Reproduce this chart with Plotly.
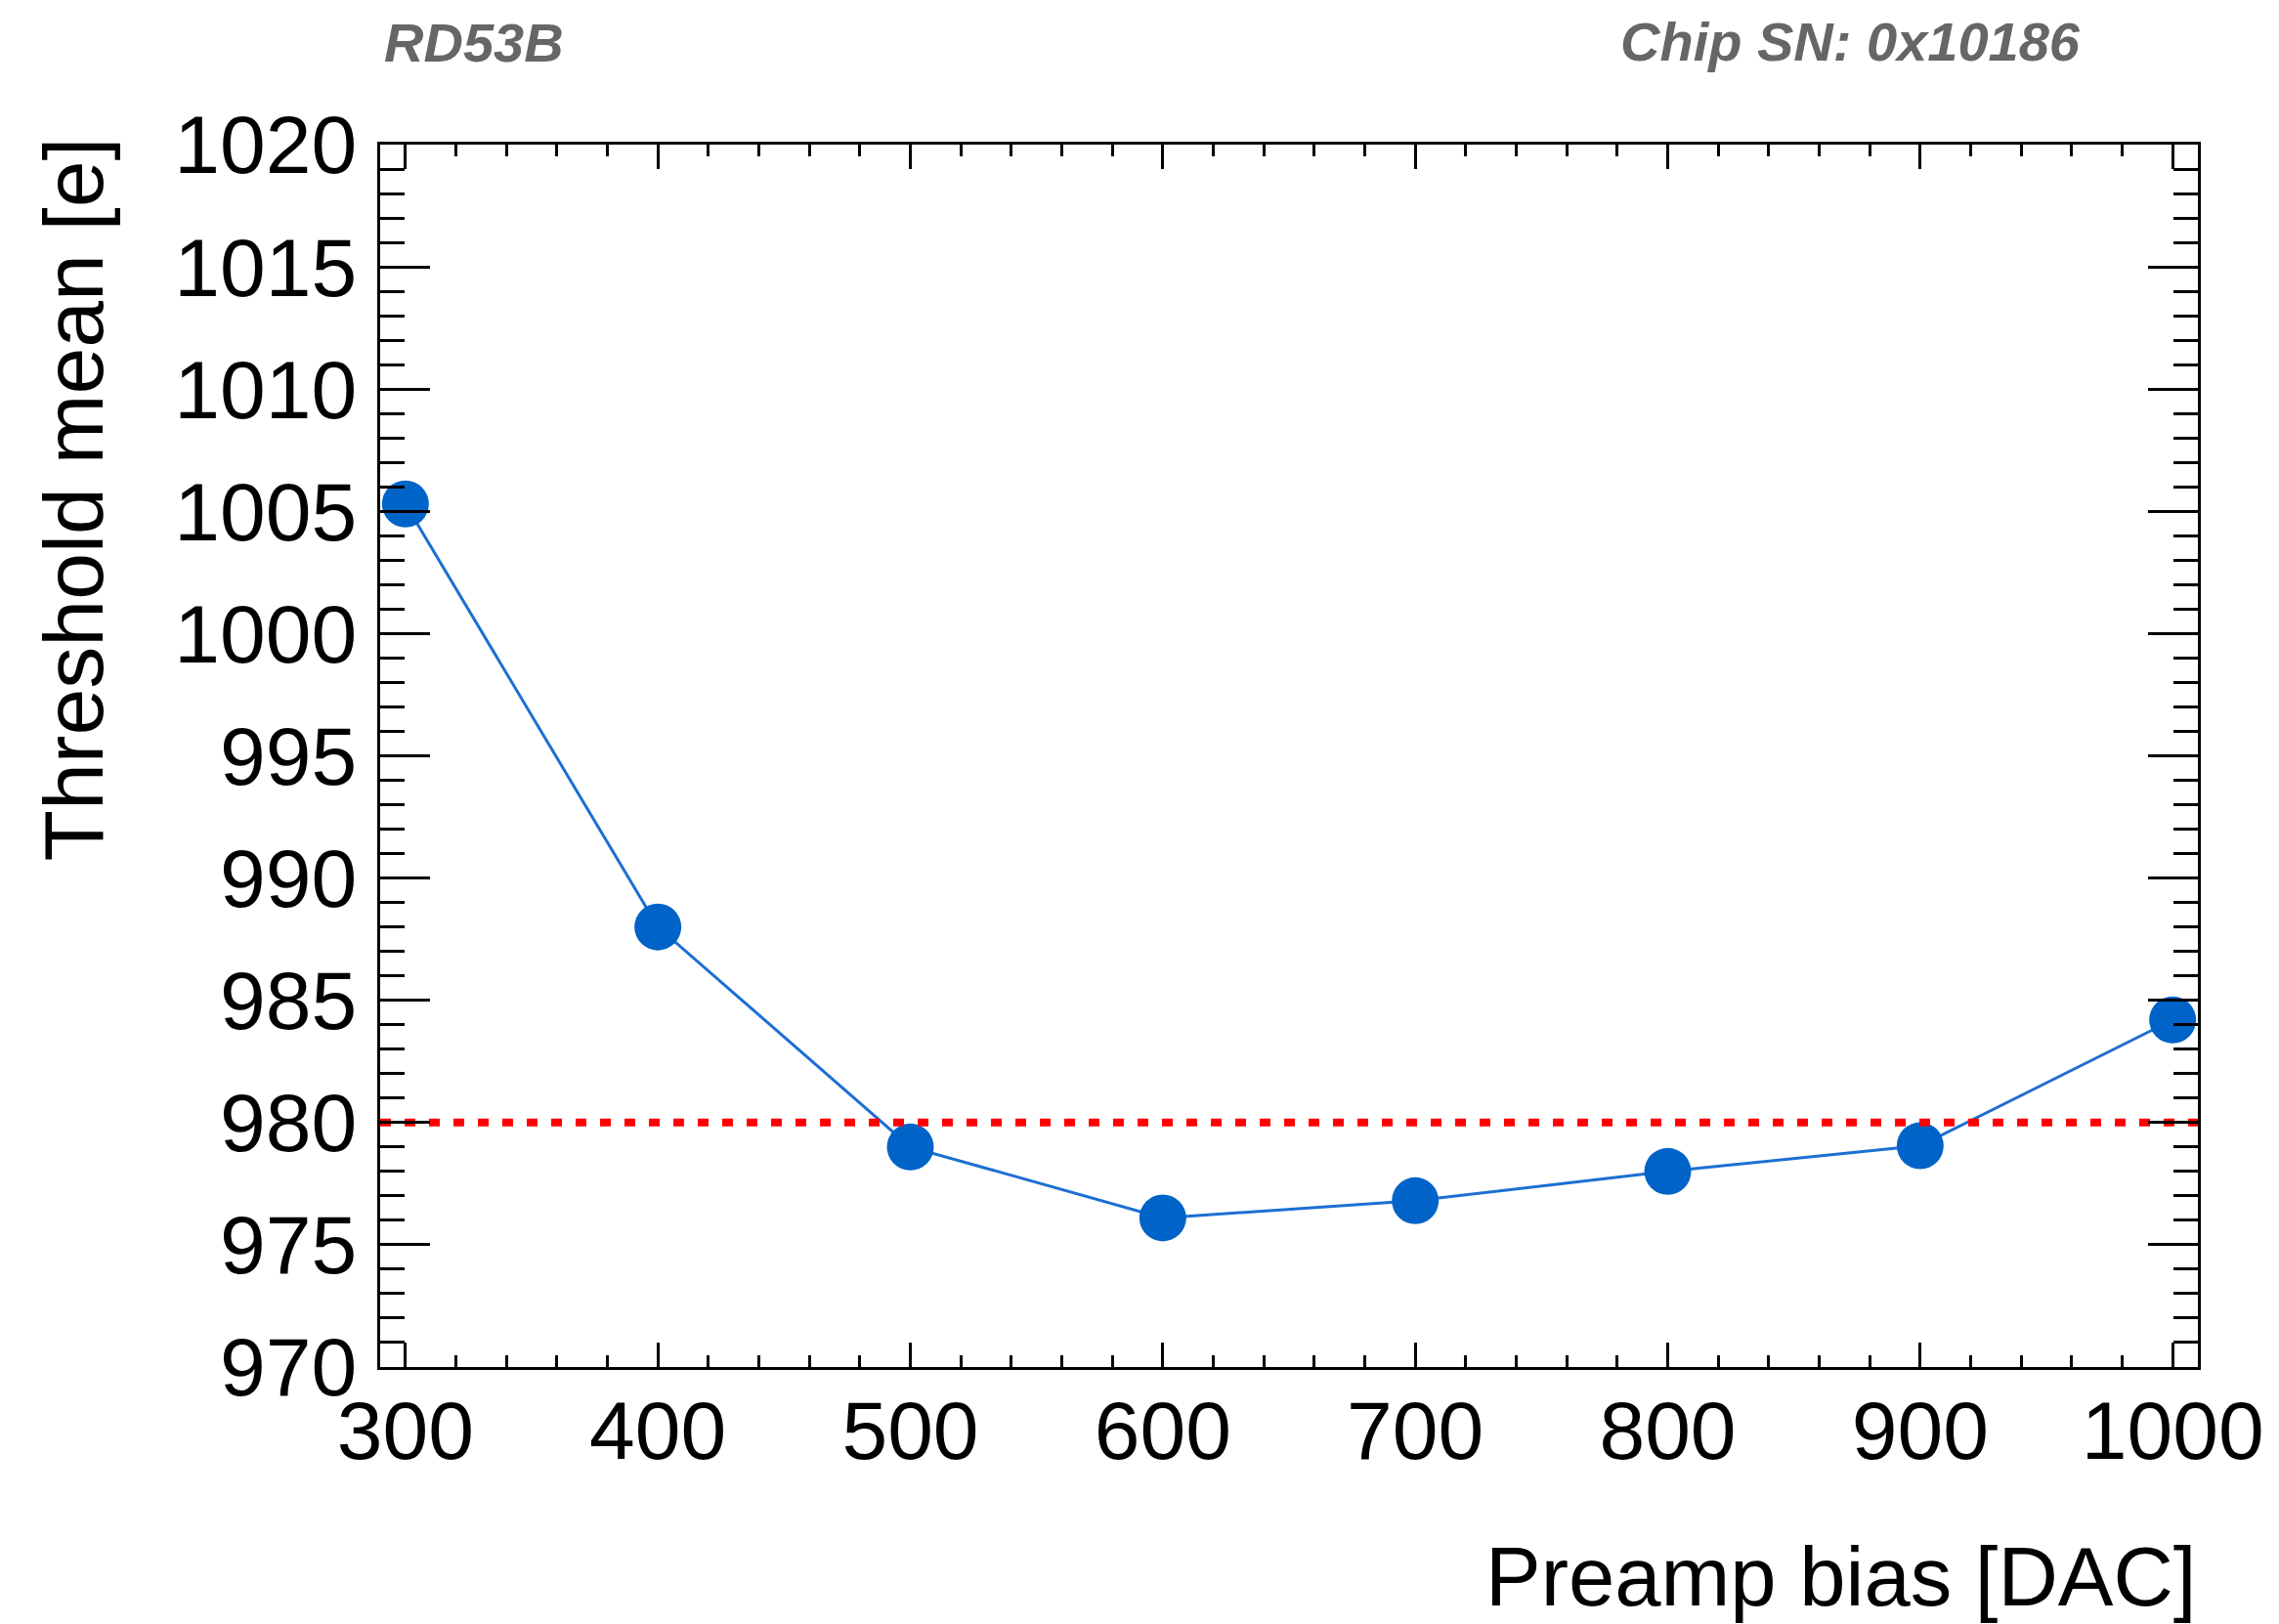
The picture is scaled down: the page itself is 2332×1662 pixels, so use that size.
import plotly.graph_objects as go

# Preamp bias scan: mean threshold vs. preamp bias setting
preamp_bias = [300, 400, 500, 600, 700, 800, 900, 1000]
threshold_mean = [1005.3, 988.0, 979.0, 976.1, 976.8, 978.0, 979.05, 984.2]
target_threshold = 980

x_range = [290, 1010]
y_range = [970, 1020]
x_ticks = [300, 400, 500, 600, 700, 800, 900, 1000]
y_ticks = [970, 975, 980, 985, 990, 995, 1000, 1005, 1010, 1015, 1020]

W, H = 2332, 1662
L, R, T, B = 389, 2249, 148, 1399
FONT = "Liberation Sans, Arial, Helvetica, sans-serif"
BLUE = "#0063c8"


def px_x(px):
    return (px - L) / (R - L)


def px_y(py):
    return (B - py) / (B - T)


fig = go.Figure()

fig.add_trace(go.Scatter(
    x=preamp_bias, y=threshold_mean, mode="lines+markers",
    line=dict(color="#1c6fd2", width=3),
    marker=dict(color=BLUE, size=48, line=dict(width=0)),
    showlegend=False, cliponaxis=False,
))

# target threshold line across the full frame
fig.add_trace(go.Scatter(
    x=x_range, y=[target_threshold, target_threshold], mode="lines",
    line=dict(color="#ff0000", width=8, dash="11px,14px"),
    showlegend=False, hoverinfo="skip",
))

axis_common = dict(
    showline=True, linecolor="black", linewidth=3, mirror="ticks",
    ticks="inside", tickcolor="black", tickwidth=3,
    showgrid=False, zeroline=False,
    tickfont=dict(family=FONT, size=84, color="black"),
)

fig.update_xaxes(
    range=x_range, tickvals=x_ticks, ticklen=25, ticklabelstandoff=-10,
    minor=dict(dtick=20, tick0=300, ticklen=12, ticks="inside",
               tickcolor="black", tickwidth=3, showgrid=False),
    **axis_common,
)
fig.update_yaxes(
    range=y_range, tickvals=y_ticks, ticklen=51, ticklabelstandoff=4,
    minor=dict(dtick=1, tick0=970, ticklen=25, ticks="inside",
               tickcolor="black", tickwidth=3, showgrid=False),
    **axis_common,
)

annotations = [
    dict(text="Preamp bias [DAC]", x=1.0, xanchor="right",
         y=px_y(1613), yanchor="middle",
         font=dict(family=FONT, size=85, color="black")),
    dict(text="Threshold mean [e]", textangle=-90, x=px_x(74), xanchor="center",
         y=px_y(139), yanchor="top",
         font=dict(family=FONT, size=86, color="black")),
    dict(text="RD53B", x=px_x(391), xanchor="left", y=px_y(44), yanchor="middle",
         font=dict(family=FONT, size=56, color="#666666", weight="bold", style="italic")),
    dict(text="Chip SN: 0x10186", x=px_x(2131), xanchor="right", y=px_y(42), yanchor="middle",
         font=dict(family=FONT, size=56, color="#666666", weight="bold", style="italic")),
]
for a in annotations:
    a.update(xref="paper", yref="paper", showarrow=False)

fig.update_layout(
    width=W, height=H,
    margin=dict(l=L, r=W - R, t=T, b=H - B),
    plot_bgcolor="white", paper_bgcolor="white",
    annotations=annotations,
)

fig.write_html("out.html")
